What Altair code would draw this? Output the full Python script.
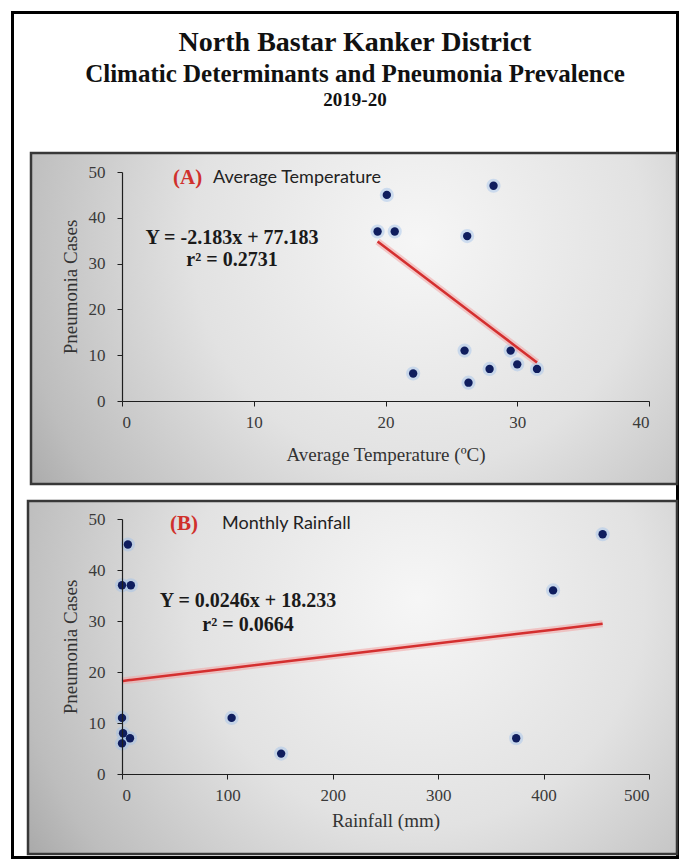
import altair as alt
import pandas as pd

# ---------------- data ----------------
CASES = [37, 45, 37, 47, 36, 6, 11, 4, 7, 11, 8, 7]
TEMP_C = [19.4, 20.1, 20.7, 28.2, 26.2, 22.1, 26.0, 26.3, 27.9, 29.5, 30.0, 31.5]
RAIN_MM = [0, 5.6, 8.4, 456, 409, 0, 104, 151, 374, 0, 1, 7.6]

FIT_A = (-2.183, 77.183)
FIT_B = (0.0246, 18.233)
EQ_A = ["Y = -2.183x + 77.183", "r² = 0.2731"]
EQ_B = ["Y = 0.0246x + 18.233", "r² = 0.0664"]

TITLES = ["North Bastar Kanker District",
          "Climatic Determinants and Pneumonia Prevalence",
          "2019-20"]
TAG_A = ["(A)", "Average Temperature"]
TAG_B = ["(B)", "Monthly Rainfall"]
X_TITLE_A = "Average Temperature (ºC)"
X_TITLE_B = "Rainfall (mm)"
Y_TITLE = "Pneumonia Cases"

X_TICKS_A = [0, 10, 20, 30, 40]
X_TICKS_B = [0, 100, 200, 300, 400, 500]
Y_TICKS = [0, 10, 20, 30, 40, 50]

# ---------------- styling ----------------
SERIF = "Liberation Serif"
SANS = "Lato"
W = 527
HA = 229
HB = 255

one = pd.DataFrame({"k": [0]})

GRAD = {
    "gradient": "radial",
    "x1": 0.6, "y1": 0.38, "r1": 0.0,
    "x2": 0.6, "y2": 0.38, "r2": 0.78,
    "stops": [
        {"offset": 0.0, "color": "#f6f6f6"},
        {"offset": 0.45, "color": "#e2e2e2"},
        {"offset": 0.8, "color": "#bdbdbd"},
        {"offset": 1.0, "color": "#9c9c9c"},
    ],
}


def rect(x1, x2, y1, y2, **kw):
    return alt.Chart(one).mark_rect(**kw).encode(
        x=alt.value(x1), x2=alt.value(x2), y=alt.value(y1), y2=alt.value(y2)
    )


def text(s, x, y, **kw):
    return alt.Chart(one).mark_text(text=s, baseline="middle", **kw).encode(
        x=alt.value(x), y=alt.value(y)
    )


def panel(xs, xticks, xtitle, fit, eq, tag, width, height, box, tagpos, eqpos,
          title_pad, extra=None):
    df = pd.DataFrame({"x": xs, "cases": CASES})
    base = alt.Chart(df)
    xenc = alt.X("x:Q",
                 scale=alt.Scale(domain=[xticks[0], xticks[-1]], nice=False),
                 axis=alt.Axis(values=xticks, title=xtitle, titlePadding=title_pad,
                               labelPadding=8, tickSize=5, format="d", zindex=1))
    yenc = alt.Y("cases:Q",
                 scale=alt.Scale(domain=[0, 50], nice=False),
                 axis=alt.Axis(values=Y_TICKS, title=Y_TITLE, titlePadding=8,
                               labelPadding=12, tickSize=5, zindex=1))
    m, b = fit
    fitline = base.transform_calculate(fit=f"{m}*datum.x + {b}")
    layers = []
    if extra:
        layers += extra
    layers += [
        rect(box[0], box[1], box[2], box[3], fill=GRAD, stroke="#383838",
             strokeWidth=2.5),
        base.mark_circle(size=200, color="#9fc2ec", opacity=0.45).encode(x=xenc, y=yenc),
        fitline.mark_line(color="#f2a3a3", strokeWidth=7, opacity=0.55).encode(
            x="x:Q", y="fit:Q"),
        fitline.mark_line(color="#d42f2f", strokeWidth=2.5).encode(x="x:Q", y="fit:Q"),
        base.mark_circle(size=70, color="#0f1d5e", opacity=1).encode(x=xenc, y=yenc),
        text(tag[0], tagpos[0], tagpos[2], font=SERIF, fontSize=21, fontWeight="bold",
             color="#d0302c", align="left"),
        text(tag[1], tagpos[1], tagpos[2], font=SANS, fontSize=18, color="#222222",
             align="left"),
        text(eq[0], eqpos[0], eqpos[1], font=SERIF, fontSize=20, fontWeight="bold",
             color="#1a1a1a", align="center"),
        text(eq[1], eqpos[0], eqpos[2], font=SERIF, fontSize=20, fontWeight="bold",
             color="#1a1a1a", align="center"),
    ]
    return alt.layer(*layers).properties(width=width, height=height)


extra_a = [
    rect(-109.5, 555.5, -159.5, 685.5, fill="transparent", stroke="#000000",
         strokeWidth=3),
    text(TITLES[0], 233, -129, font=SERIF, fontSize=28, fontWeight="bold",
         color="#111111", align="center"),
    text(TITLES[1], 233, -98, font=SERIF, fontSize=25, fontWeight="bold",
         color="#111111", align="center"),
    text(TITLES[2], 233, -72, font=SERIF, fontSize=19, fontWeight="bold",
         color="#111111", align="center"),
]

chart_a = panel(TEMP_C, X_TICKS_A, X_TITLE_A, FIT_A, EQ_A, TAG_A, W, HA,
                box=(-91, 555, -19, 312), tagpos=(51, 91, 6), eqpos=(110, 66, 88),
                title_pad=15, extra=extra_a)
chart_b = panel(RAIN_MM, X_TICKS_B, X_TITLE_B, FIT_B, EQ_B, TAG_B, W, HB,
                box=(-94, 555, -18, 335), tagpos=(48, 100, 5), eqpos=(126, 82, 106),
                title_pad=8)

chart = alt.vconcat(chart_a, chart_b, spacing=118, bounds="flush").properties(
    padding={"left": 2, "top": 2, "right": 0, "bottom": 0},
    background="white",
).configure_view(stroke="transparent").configure_axis(
    grid=False,
    domainColor="#1e1e1e",
    domainWidth=1.2,
    tickColor="#1e1e1e",
    labelFont=SERIF,
    labelFontSize=17,
    labelColor="#3a3a3a",
    titleFont=SERIF,
    titleFontSize=19,
    titleFontWeight="normal",
    titleColor="#333333",
)

chart.save("out.html", embed_options={"renderer": "svg", "actions": False})
